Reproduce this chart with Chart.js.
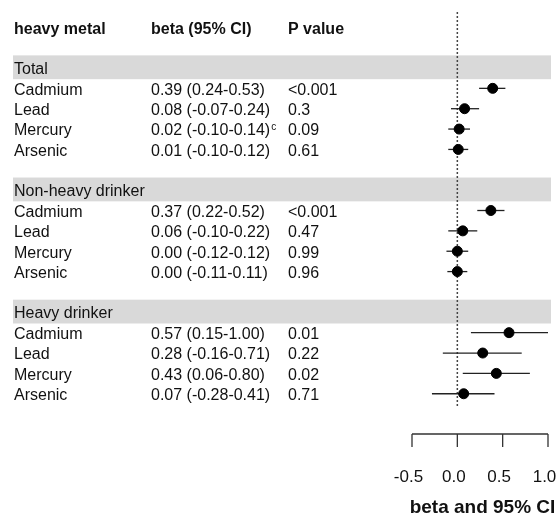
<!DOCTYPE html>
<html>
<head>
<meta charset="utf-8">
<script src="https://cdn.jsdelivr.net/npm/chart.js@4"></script>
<style>
  html, body { margin: 0; padding: 0; background: #fff; }
  #wrap { width: 559px; height: 522px; }
</style>
</head>
<body>
<div id="wrap"><canvas id="forest" width="559" height="522"></canvas></div>
<script>
// Forest plot data
const groups = ['Total', 'Non-heavy drinker', 'Heavy drinker'];
const metals = ['Cadmium', 'Lead', 'Mercury', 'Arsenic'];

const betaTotal = [0.39, 0.08, 0.02, 0.01];
const lowTotal = [0.24, -0.07, -0.10, -0.10];
const highTotal = [0.53, 0.24, 0.14, 0.12];
const pTotal = ['<0.001', '0.3', '0.09', '0.61'];
const noteTotal = ['', '', 'c', ''];

const betaNonHeavy = [0.37, 0.06, 0.00, 0.00];
const lowNonHeavy = [0.22, -0.10, -0.12, -0.11];
const highNonHeavy = [0.52, 0.22, 0.12, 0.11];
const pNonHeavy = ['<0.001', '0.47', '0.99', '0.96'];
const noteNonHeavy = ['', '', '', ''];

const betaHeavy = [0.57, 0.28, 0.43, 0.07];
const lowHeavy = [0.15, -0.16, 0.06, -0.28];
const highHeavy = [1.00, 0.71, 0.80, 0.41];
const pHeavy = ['0.01', '0.22', '0.02', '0.71'];
const noteHeavy = ['', '', '', ''];

const headers = ['heavy metal', 'beta (95% CI)', 'P value'];
const xTicks = [-0.5, 0.0, 0.5, 1.0];
const xTitle = 'beta and 95% CI';

const FONT = '"Liberation Sans", Arial, Helvetica, sans-serif';
const TEXT = '#111';
const BAND = '#d9d9d9';
const colX = [14, 151, 288];

// Build rows: header row 0, blank 1, then group header + 4 metals + blank
const rows = [];
const groupRows = [];
const series = [
    { beta: betaTotal, low: lowTotal, high: highTotal, p: pTotal, note: noteTotal },
    { beta: betaNonHeavy, low: lowNonHeavy, high: highNonHeavy, p: pNonHeavy, note: noteNonHeavy },
    { beta: betaHeavy, low: lowHeavy, high: highHeavy, p: pHeavy, note: noteHeavy }
];
series.forEach((s, g) => {
    const headRow = 2 + g * 6;
    groupRows.push(headRow);
    metals.forEach((m, k) => {
        rows.push({
            row: headRow + 1 + k,
            metal: m,
            beta: s.beta[k],
            low: s.low[k],
            high: s.high[k],
            p: s.p[k],
            note: s.note[k]
        });
    });
});

function fmt(v) {
    return v.toFixed(2);
}

const forestPlugin = {
    id: 'forest',
    beforeDatasetsDraw(chart) {
        const ctx = chart.ctx;
        const x = chart.scales.x;
        const y = chart.scales.y;
        const area = chart.chartArea;
        ctx.save();

        // Group bands
        ctx.fillStyle = BAND;
        groupRows.forEach(r => {
            const top = y.getPixelForValue(r - 0.62);
            const bot = y.getPixelForValue(r + 0.55);
            ctx.fillRect(colX[0] - 1, top, area.right + 3 - (colX[0] - 1), bot - top);
        });

        // Zero reference line
        const x0 = x.getPixelForValue(0);
        ctx.strokeStyle = '#444';
        ctx.lineWidth = 1.5;
        ctx.setLineDash([2, 2]);
        ctx.beginPath();
        ctx.moveTo(x0, area.top);
        ctx.lineTo(x0, area.bottom);
        ctx.stroke();
        ctx.setLineDash([]);

        // CI lines
        ctx.strokeStyle = '#222';
        ctx.lineWidth = 1.3;
        rows.forEach(r => {
            const py = y.getPixelForValue(r.row);
            ctx.beginPath();
            ctx.moveTo(x.getPixelForValue(r.low), py);
            ctx.lineTo(x.getPixelForValue(r.high), py);
            ctx.stroke();
        });
        ctx.restore();
    },
    afterDraw(chart) {
        const ctx = chart.ctx;
        const x = chart.scales.x;
        const y = chart.scales.y;
        const area = chart.chartArea;
        ctx.save();
        ctx.fillStyle = TEXT;
        ctx.textBaseline = 'middle';
        ctx.textAlign = 'left';

        // Column headers
        ctx.font = 'bold 16px ' + FONT;
        const hy = y.getPixelForValue(0) + 2.5;
        headers.forEach((h, i) => ctx.fillText(h, colX[i], hy));

        // Group labels
        ctx.font = '16px ' + FONT;
        groups.forEach((g, i) => {
            ctx.fillText(g, colX[0], y.getPixelForValue(groupRows[i]) + 1.5);
        });

        // Table rows
        rows.forEach(r => {
            const py = y.getPixelForValue(r.row) + 2;
            ctx.font = '16px ' + FONT;
            ctx.fillText(r.metal, colX[0], py);
            const ci = `${fmt(r.beta)} (${fmt(r.low)}-${fmt(r.high)})`;
            ctx.fillText(ci, colX[1], py);
            if (r.note) {
                const w = ctx.measureText(ci).width;
                ctx.font = '10px ' + FONT;
                ctx.fillText(r.note, colX[1] + w + 1, py - 4);
                ctx.font = '16px ' + FONT;
            }
            ctx.fillText(r.p, colX[2], py);
        });

        // Bottom axis
        const axisY = area.bottom + 26;
        const left = x.getPixelForValue(xTicks[0]);
        const right = x.getPixelForValue(xTicks[xTicks.length - 1]);
        ctx.strokeStyle = '#333';
        ctx.lineWidth = 1.3;
        ctx.beginPath();
        ctx.moveTo(left, axisY);
        ctx.lineTo(right, axisY);
        xTicks.forEach(t => {
            const px = x.getPixelForValue(t);
            ctx.moveTo(px, axisY);
            ctx.lineTo(px, axisY + 13);
        });
        ctx.stroke();

        ctx.font = '17px ' + FONT;
        ctx.textAlign = 'center';
        xTicks.forEach(t => {
            ctx.fillText(t.toFixed(1), x.getPixelForValue(t) - 3.5, axisY + 43);
        });

        ctx.font = 'bold 19px ' + FONT;
        ctx.fillText(xTitle, (left + right) / 2 + 2.5, axisY + 74);
        ctx.restore();
    }
};

const ctx = document.getElementById('forest').getContext('2d');
const chart = new Chart(ctx, {
    type: 'scatter',
    data: {
        datasets: [{
            data: rows.map(r => ({ x: r.beta, y: r.row })),
            backgroundColor: '#000',
            borderColor: '#000',
            pointRadius: 5,
            pointHoverRadius: 5,
            clip: false
        }]
    },
    options: {
        responsive: false,
        animation: false,
        layout: {
            padding: { left: 412, right: 11, top: 12, bottom: 114 }
        },
        scales: {
            x: { type: 'linear', min: -0.5, max: 1.0, display: false },
            y: { type: 'linear', min: -0.75, max: 18.7, reverse: true, display: false }
        },
        plugins: {
            legend: { display: false },
            tooltip: { enabled: false }
        },
        events: []
    },
    plugins: [forestPlugin]
});
</script>
</body>
</html>
